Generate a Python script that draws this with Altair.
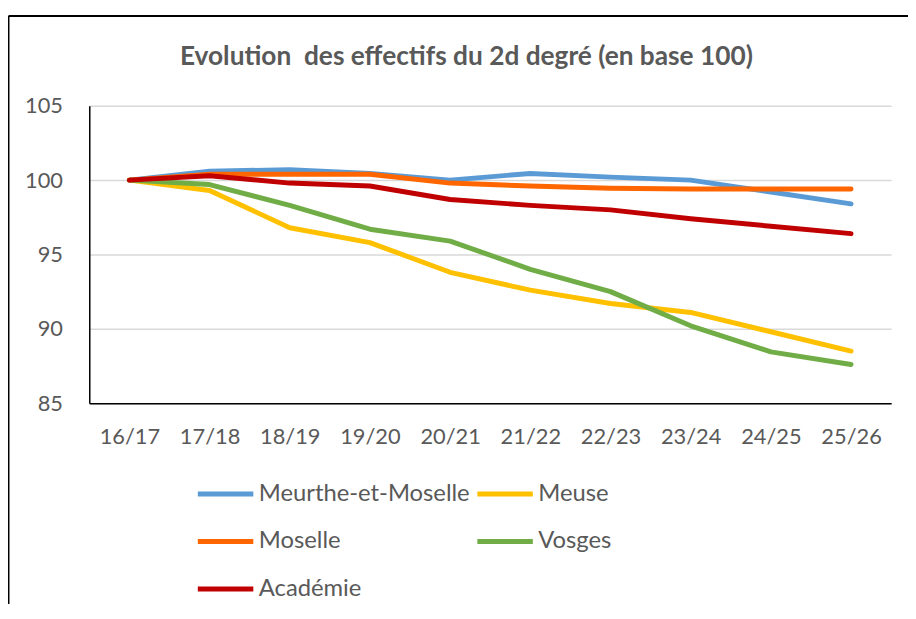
import altair as alt
import pandas as pd

years = ["16/17", "17/18", "18/19", "19/20", "20/21", "21/22", "22/23", "23/24", "24/25", "25/26"]
series = ["Meurthe-et-Moselle", "Meuse", "Moselle", "Vosges", "Académie"]
colors = ["#5B9BD5", "#FFC000", "#FF6600", "#70AD47", "#C00000"]

meurthe = [100, 100.6, 100.7, 100.45, 100.0, 100.45, 100.2, 100.0, 99.2, 98.4]
meuse = [100, 99.3, 96.8, 95.8, 93.8, 92.6, 91.7, 91.1, 89.8, 88.5]
moselle = [100, 100.4, 100.4, 100.4, 99.8, 99.6, 99.45, 99.4, 99.4, 99.4]
vosges = [100, 99.7, 98.3, 96.7, 95.9, 94.0, 92.5, 90.2, 88.45, 87.6]
academie = [100, 100.3, 99.8, 99.6, 98.7, 98.3, 98.0, 97.4, 96.9, 96.4]

values = [meurthe, meuse, moselle, vosges, academie]
rows = []
for s, vals in zip(series, values):
    for y, v in zip(years, vals):
        rows.append({"annee": y, "serie": s, "valeur": v})
df = pd.DataFrame(rows)

FONT = "Lato"
GREY = "#595959"

lines = alt.Chart(df).mark_line(strokeWidth=5, strokeCap="round", strokeJoin="round").encode(
    x=alt.X("annee:O", sort=years, title=None,
            scale=alt.Scale(type="point", padding=0.5),
            axis=alt.Axis(labelAngle=0, ticks=False, tickSize=0, labelPadding=24,
                          domainColor="#000000", domainWidth=1.5, grid=False,
                          labelFont=FONT, labelFontSize=22, labelColor=GREY)),
    y=alt.Y("valeur:Q", title=None,
            scale=alt.Scale(domain=[85, 105], nice=False, zero=False),
            axis=alt.Axis(values=[85, 90, 95, 100, 105], ticks=False, tickSize=0, labelPadding=27,
                          domainColor="#000000", domainWidth=1.5,
                          gridColor="#D9D9D9", gridWidth=1.5,
                          labelFont=FONT, labelFontSize=22, labelColor=GREY)),
    color=alt.Color("serie:N", sort=series,
                    scale=alt.Scale(domain=series, range=colors),
                    legend=alt.Legend(title=None, orient="none", legendX=121, legendY=375,
                                      direction="horizontal",
                                      columns=2, columnPadding=-3, rowPadding=19,
                                      symbolType="M-2,0H2", symbolSize=784, symbolStrokeWidth=5,
                                      labelOffset=17, labelLimit=400, labelFont=FONT, labelFontSize=24,
                                      labelColor=GREY)),
    detail="serie:N",
)

frame_data = alt.Data(values=[{"k": 1}])
frame_left = alt.Chart(frame_data).mark_rule(color="#000000", strokeWidth=2).encode(
    x=alt.value(-81.5), y=alt.value(-90.5), y2=alt.value(520)
)
frame_top = alt.Chart(frame_data).mark_rule(color="#000000", strokeWidth=2).encode(
    x=alt.value(-81.5), x2=alt.value(830), y=alt.value(-90.5)
)

chart = alt.layer(lines, frame_left, frame_top).properties(
    width=809,
    height=300,
    title=alt.TitleParams(
        text="Evolution\u00a0 des effectifs du 2d degré (en base 100)",
        anchor="middle", dx=-24, offset=-56, fontSize=26.5, font=FONT, fontWeight="bold",
        color=GREY,
    ),
    autosize=alt.AutoSizeParams(type="none"),
    padding={"left": 82, "top": 96, "right": 17, "bottom": 200},
).configure_view(stroke=None)

chart.save("out.html", embed_options={"renderer": "svg", "actions": False})
